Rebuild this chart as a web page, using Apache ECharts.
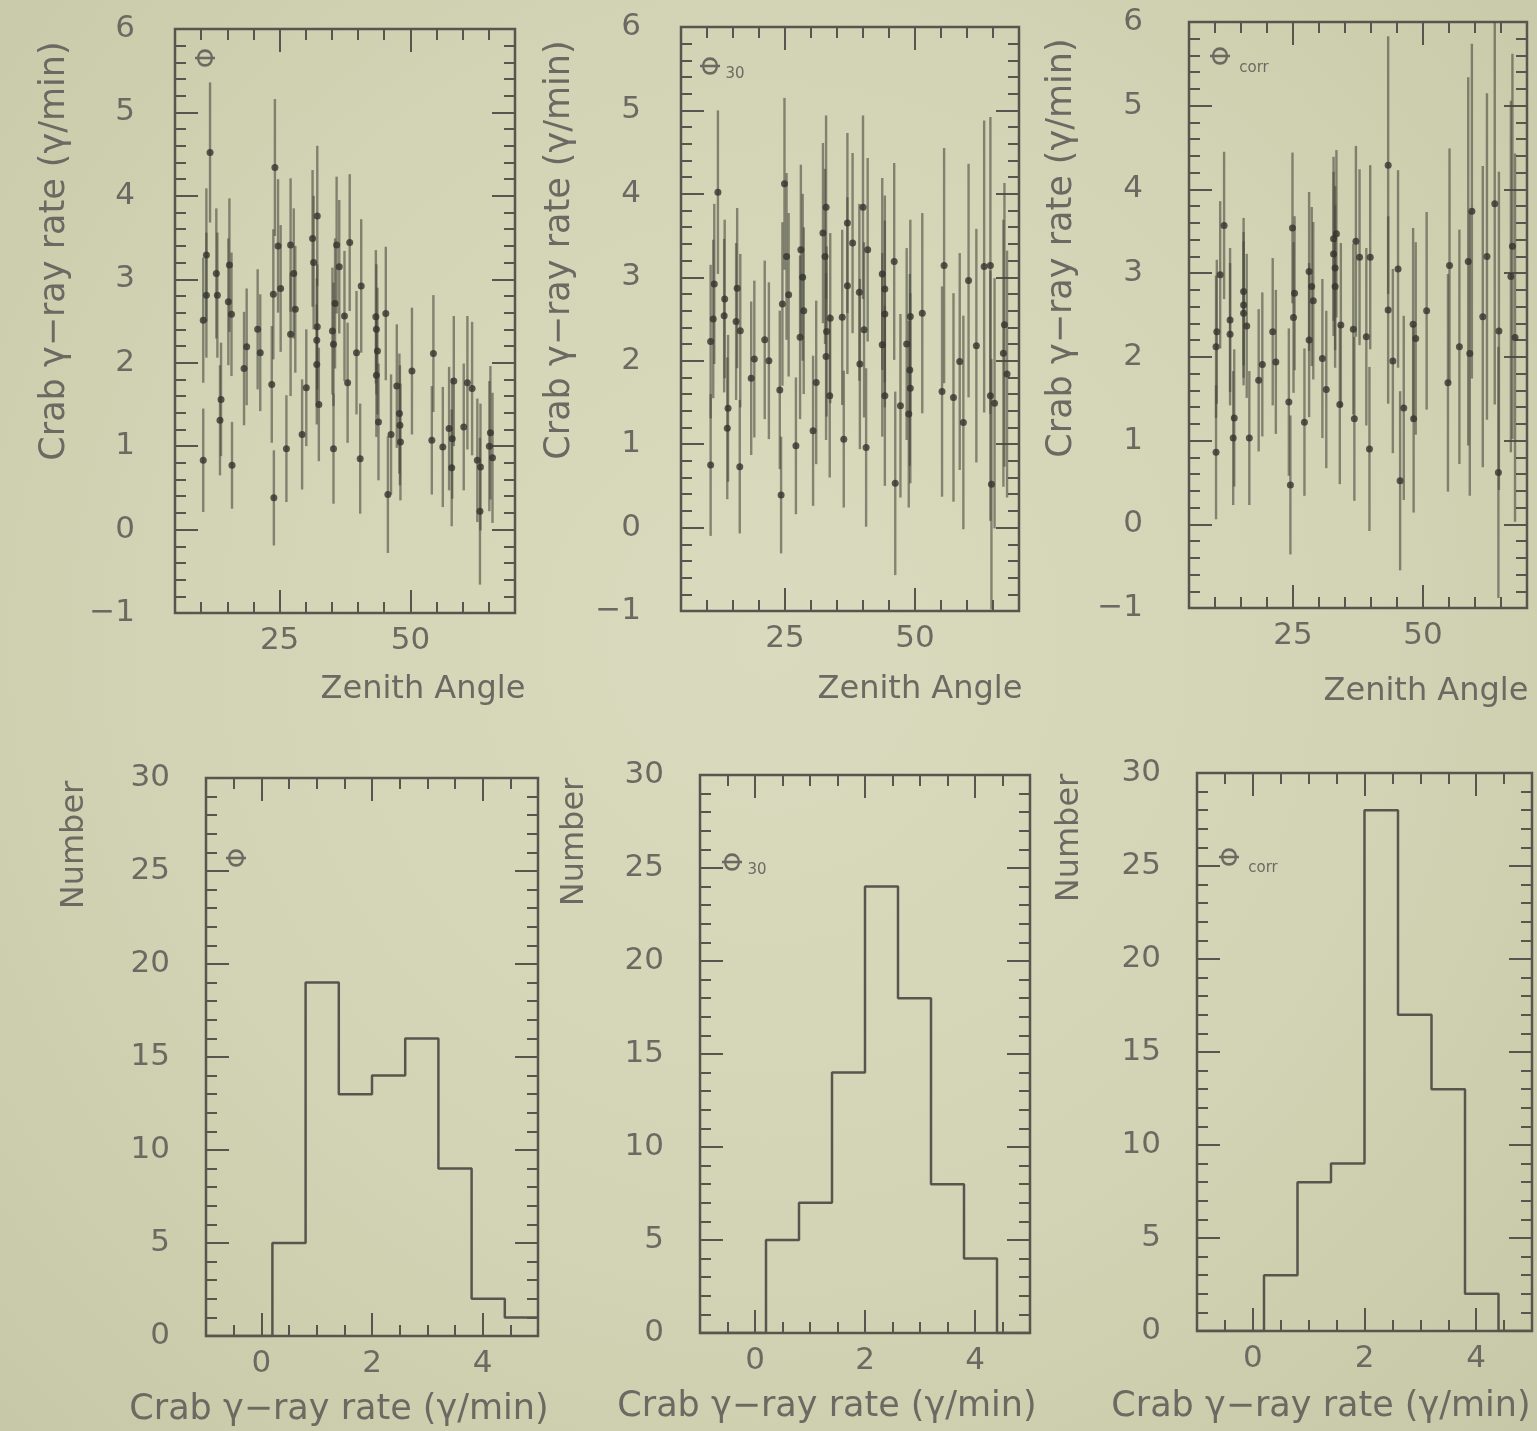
<!DOCTYPE html>
<html>
<head>
<meta charset="utf-8">
<title>Crab gamma-ray rate vs zenith angle</title>
<script src="https://cdn.jsdelivr.net/npm/echarts@6/dist/echarts.min.js"></script>
<style>
  html, body { margin: 0; padding: 0; }
  body { background: radial-gradient(ellipse at 50% 45%, #dadbbe 0%, #d3d4b5 55%, #c7c8a7 100%); }
  #main { width: 1537px; height: 1431px; }
</style>
</head>
<body>
<div id="main"></div>
<script>
// ---- data ----
// top row: zenith angle (deg), Crab rate (gamma/min), error
const zenPhi = [10.4,10.4,11.0,11.0,11.7,12.9,13.1,13.6,13.8,15.2,15.4,15.8,15.9,18.2,18.7,20.8,21.3,23.5,23.8,23.9,24.1,24.7,25.2,26.3,27.1,27.1,27.7,28.0,29.3,30.1,31.3,31.5,32.1,32.1,32.2,32.2,32.5,35.1,35.3,35.3,35.6,35.9,36.4,37.4,38.0,38.4,39.7,40.4,40.6,43.4,43.5,43.5,43.7,43.9,45.3,45.7,46.3,47.4,47.9,48.0,48.1,50.3,54.1,54.4,56.2,57.4,57.9,58.0,58.3,60.2,60.9,61.8,62.8,63.3,63.4,65.1,65.3,65.7];
const ratePhi = [0.83,2.51,3.29,2.81,4.52,3.07,2.81,1.31,1.56,2.73,3.17,2.58,0.77,1.93,2.19,2.40,2.12,1.74,2.82,0.38,4.34,3.40,2.89,0.97,3.41,2.34,3.07,2.64,1.14,1.70,3.49,3.20,1.98,2.27,3.76,2.43,1.50,2.38,2.22,0.97,2.71,3.41,3.15,2.56,1.76,3.44,2.12,0.85,2.92,2.55,2.40,1.85,2.14,1.29,2.59,0.42,1.14,1.72,1.39,1.25,1.05,1.90,1.07,2.11,0.99,1.21,0.74,1.09,1.78,1.23,1.76,1.69,0.83,0.22,0.75,1.00,1.16,0.86];
const errPhi = [0.62,0.75,0.80,0.75,0.84,0.78,0.75,0.66,0.68,0.76,0.80,0.74,0.52,0.68,0.70,0.72,0.70,0.70,0.78,0.57,0.82,0.80,0.76,0.64,0.80,0.74,0.78,0.76,0.66,0.70,0.82,0.80,0.72,0.74,0.84,0.75,0.68,0.76,0.74,0.66,0.78,0.82,0.80,0.78,0.72,0.82,0.74,0.66,0.80,0.80,0.78,0.74,0.76,0.70,0.80,0.70,0.72,0.74,0.72,0.72,0.70,0.76,0.65,0.70,0.72,0.74,0.70,0.72,0.78,0.76,0.80,0.80,0.74,0.88,0.76,0.78,0.80,0.78];

const zenPhi30 = [10.7,10.7,11.2,11.4,12.1,13.3,13.4,13.9,14.05,15.6,15.8,16.3,16.4,18.5,19.1,21.1,21.9,24.0,24.25,24.5,24.9,25.3,25.7,27.1,27.9,28.05,28.4,28.6,30.4,31.0,32.3,32.7,32.9,32.9,33.0,33.6,33.7,36.0,36.3,37.0,37.0,38.0,39.3,39.4,40.0,40.2,40.6,40.9,43.7,43.7,44.2,44.2,44.2,46.0,46.2,47.2,48.4,48.8,49.0,49.1,49.1,51.4,55.2,55.6,57.4,58.6,59.3,60.3,61.8,63.3,64.5,64.5,64.7,65.3,67.0,67.2,67.7];
const ratePhi30 = [0.75,2.23,2.50,2.92,4.02,2.54,2.74,1.19,1.43,2.47,2.87,0.73,2.36,1.79,2.02,2.25,2.00,1.65,0.39,2.68,4.12,3.25,2.79,0.98,2.28,3.33,3.00,2.60,1.16,1.74,3.53,3.25,2.05,3.84,2.35,1.58,2.51,2.52,1.06,2.90,3.65,3.41,2.82,1.96,3.84,2.37,0.96,3.33,3.04,2.19,2.86,2.56,1.58,3.19,0.53,1.46,2.20,1.36,1.89,2.53,1.67,2.57,1.63,3.14,1.56,1.99,1.26,2.96,2.18,3.13,1.58,3.14,0.52,1.49,2.09,2.43,1.84];
const errPhi30 = [0.85,0.92,0.95,0.96,0.98,0.92,0.95,0.85,0.88,0.94,0.96,0.80,0.92,0.92,0.94,0.95,0.94,0.95,0.70,0.98,1.03,1.00,0.98,0.82,0.98,1.02,1.00,1.00,0.90,0.98,1.08,1.05,1.00,1.10,1.02,0.98,1.02,1.05,0.82,1.06,1.08,1.08,1.06,1.02,1.10,1.05,0.95,1.10,1.15,1.10,1.12,1.12,1.08,1.18,1.10,1.10,1.15,1.12,1.15,1.16,1.14,1.20,1.26,1.41,1.25,1.30,1.28,1.40,1.40,1.75,1.50,1.78,1.50,1.50,1.60,1.70,1.48];

const zenCorr = [10.2,10.2,10.35,11.0,11.75,12.9,12.9,13.5,13.7,15.5,15.5,15.5,16.1,16.6,18.4,19.1,21.1,21.7,24.2,24.5,24.9,25.1,25.3,27.2,28.1,28.1,28.6,28.9,30.65,31.4,32.8,32.8,33.1,33.1,33.35,34.0,34.2,36.6,36.8,37.1,37.8,39.1,39.7,39.85,43.3,43.3,44.2,45.2,45.6,46.3,48.1,48.2,48.6,50.7,54.8,55.1,57.0,58.7,59.0,59.4,61.5,62.3,63.8,64.5,64.6,66.9,67.2,67.7];
const rateCorr = [2.12,0.86,2.30,2.98,3.57,2.44,2.27,1.03,1.27,2.78,2.62,2.52,2.37,1.03,1.72,1.91,2.30,1.94,1.46,0.47,3.54,2.47,2.76,1.22,3.02,2.20,2.84,2.67,1.98,1.61,3.41,3.23,3.06,2.84,3.47,1.43,2.38,2.33,1.26,3.38,3.19,2.24,0.90,3.19,4.29,2.56,1.95,3.05,0.52,1.39,2.39,1.26,2.22,2.55,1.69,3.09,2.12,3.14,2.04,3.74,2.48,3.20,3.83,0.62,2.31,2.96,3.32,2.23];
const errCorr = [0.85,0.80,0.86,0.88,0.88,0.86,0.85,0.80,0.82,0.88,0.87,0.86,0.86,0.80,0.85,0.86,0.88,0.86,0.88,0.83,0.90,0.90,0.92,0.88,0.95,0.92,0.95,0.94,0.95,0.94,0.98,0.98,0.98,0.97,1.00,0.95,0.98,1.02,0.98,1.14,1.05,1.06,0.98,1.10,1.54,1.12,1.10,1.18,1.07,1.10,1.15,1.12,1.15,1.18,1.30,1.40,1.40,2.20,1.70,2.00,1.80,1.95,2.40,1.50,1.90,2.10,2.30,2.20];

// bottom row: histogram of the rates, bin lower edges and counts
const rateBins = [-1, -0.4, 0.2, 0.8, 1.4, 2.0, 2.6, 3.2, 3.8, 4.4];
const countPhi = [0, 0, 5, 19, 13, 14, 16, 9, 2, 1];
const countPhi30 = [0, 0, 5, 7, 14, 24, 18, 8, 4, 0];
const countCorr = [0, 0, 3, 8, 9, 28, 17, 13, 2, 0];

// axis ticks
const zenMajor = [25, 50];
const rateMajor = [0, 2, 4];

// ---- style ----
const ink = '#56564e';
const barInk = 'rgba(74,74,64,0.6)';
const dotInk = '#35352f';
const textInk = '#6a6a62';
const font = 'DejaVu Sans';

const grids = [], xAxes = [], yAxes = [], series = [];
const tickLine = { color: ink, width: 2 };

function addPanel(box, xr, yr) {
  const gi = grids.length;
  grids.push({
    left: box[0], top: box[1], width: box[2], height: box[3],
    show: true, borderColor: ink, borderWidth: 2.5, backgroundColor: 'transparent',
    containLabel: false, outerBoundsMode: 'none'
  });
  ['bottom', 'top'].forEach(function (pos) {
    xAxes.push({
      gridIndex: gi, type: 'value', position: pos, min: xr.min, max: xr.max, interval: xr.minor,
      axisLine: { show: false, onZero: false }, splitLine: { show: false },
      axisTick: { show: true, inside: true, length: 11, lineStyle: tickLine },
      axisLabel: { show: false }
    });
    xAxes.push({
      gridIndex: gi, type: 'value', position: pos, min: xr.min, max: xr.max,
      axisLine: { show: false, onZero: false }, splitLine: { show: false },
      axisTick: { show: true, inside: true, length: 23, customValues: xr.major, lineStyle: tickLine },
      axisLabel: pos === 'bottom'
        ? { show: true, customValues: xr.major, margin: 12, fontSize: 31, fontFamily: font, color: textInk }
        : { show: false }
    });
  });
  ['left', 'right'].forEach(function (pos) {
    yAxes.push({
      gridIndex: gi, type: 'value', position: pos, min: yr.min, max: yr.max, interval: yr.major,
      axisLine: { show: false, onZero: false }, splitLine: { show: false }, minorSplitLine: { show: false },
      axisTick: { show: true, inside: true, length: 23, lineStyle: tickLine },
      minorTick: { show: true, splitNumber: yr.split, length: 11, lineStyle: tickLine },
      axisLabel: pos === 'left'
        ? { show: true, margin: yr.margin, showMinLabel: true, showMaxLabel: true, fontSize: 31, fontFamily: font, color: textInk,
            formatter: function (v) { return String(v).replace('-', '\u2212'); } }
        : { show: false }
    });
  });
  return gi;
}

function addRatePanel(box, margin, zen, rate, err) {
  const yr = { min: -1, max: 6, major: 1, split: 5, margin: margin };
  const gi = addPanel(box, { min: 5, max: 70, minor: 5, major: zenMajor }, yr);
  series.push({
    type: 'custom', xAxisIndex: gi * 4, yAxisIndex: gi * 2, silent: true, z: 2,
    data: zen.map(function (z, i) { return [z, rate[i], err[i]]; }),
    encode: { x: 0, y: 1 },
    renderItem: function (params, api) {
      const x = api.value(0), y = api.value(1), e = api.value(2);
      const lo = api.coord([x, Math.max(y - e, yr.min)]);
      const hi = api.coord([x, Math.min(y + e, yr.max)]);
      return { type: 'line', shape: { x1: lo[0], y1: lo[1], x2: hi[0], y2: hi[1] },
               style: { stroke: barInk, lineWidth: 2.4 } };
    }
  });
  series.push({
    type: 'scatter', xAxisIndex: gi * 4, yAxisIndex: gi * 2, z: 3, silent: true,
    symbol: 'circle', symbolSize: 7, itemStyle: { color: dotInk },
    data: zen.map(function (z, i) { return [z, rate[i]]; })
  });
}

function addHistPanel(box, margin, counts) {
  const gi = addPanel(box, { min: -1, max: 5, minor: 0.5, major: rateMajor },
                      { min: 0, max: 30, major: 5, split: 5, margin: margin });
  const pts = rateBins.map(function (b, i) { return [b, counts[i]]; });
  pts.push([5, counts[counts.length - 1]]);
  series.push({
    type: 'line', xAxisIndex: gi * 4, yAxisIndex: gi * 2, step: 'end', symbol: 'none', silent: true,
    lineStyle: { color: ink, width: 2.5 }, data: pts
  });
}

addRatePanel([175, 29, 340, 584], 40, zenPhi, ratePhi, errPhi);
addRatePanel([681, 27, 338, 584], 40, zenPhi30, ratePhi30, errPhi30);
addRatePanel([1189, 22, 338, 586], 46, zenCorr, rateCorr, errCorr);
addHistPanel([206, 778, 332, 558], 36, countPhi);
addHistPanel([700, 775, 330, 558], 36, countPhi30);
addHistPanel([1197, 773, 335, 558], 36, countCorr);

// ---- titles ----
function label(text, x, y, size, rot) {
  return { type: 'text', x: x, y: y, rotation: rot || 0, silent: true,
    style: { text: text, fill: textInk, font: size + 'px "' + font + '"',
             align: 'center', verticalAlign: 'middle', textAlign: 'center', textVerticalAlign: 'middle' } };
}
const rateTitle = 'Crab \u03b3\u2212ray rate (\u03b3/min)';
const graphics = [
  label(rateTitle, 55, 251, 35, Math.PI / 2),
  label(rateTitle, 560, 250, 35, Math.PI / 2),
  label(rateTitle, 1062, 248, 35, Math.PI / 2),
  label('Zenith Angle', 423, 690, 32),
  label('Zenith Angle', 920, 690, 32),
  label('Zenith Angle', 1426, 692, 32),
  label('Number', 75, 845, 32, Math.PI / 2),
  label('Number', 575, 842, 32, Math.PI / 2),
  label('Number', 1070, 838, 32, Math.PI / 2),
  label(rateTitle, 339, 1410, 35),
  label(rateTitle, 827, 1407, 35),
  label(rateTitle, 1321, 1407, 35),
  // panel tags
  label('\u03a6', 208, 58, 26, Math.PI / 2),
  label('\u03a6', 713, 66, 26, Math.PI / 2),
  label('30', 735, 74, 15),
  label('\u03a6', 1223, 56, 26, Math.PI / 2),
  label('corr', 1254, 68, 15),
  label('\u03a6', 239, 858, 26, Math.PI / 2),
  label('\u03a6', 735, 862, 26, Math.PI / 2),
  label('30', 757, 870, 15),
  label('\u03a6', 1232, 857, 26, Math.PI / 2),
  label('corr', 1263, 868, 15)
];

const chart = echarts.init(document.getElementById('main'), null, { renderer: 'canvas' });
chart.setOption({
  backgroundColor: 'transparent',
  animation: false,
  grid: grids,
  xAxis: xAxes,
  yAxis: yAxes,
  series: series,
  graphic: graphics
});
</script>
</body>
</html>
